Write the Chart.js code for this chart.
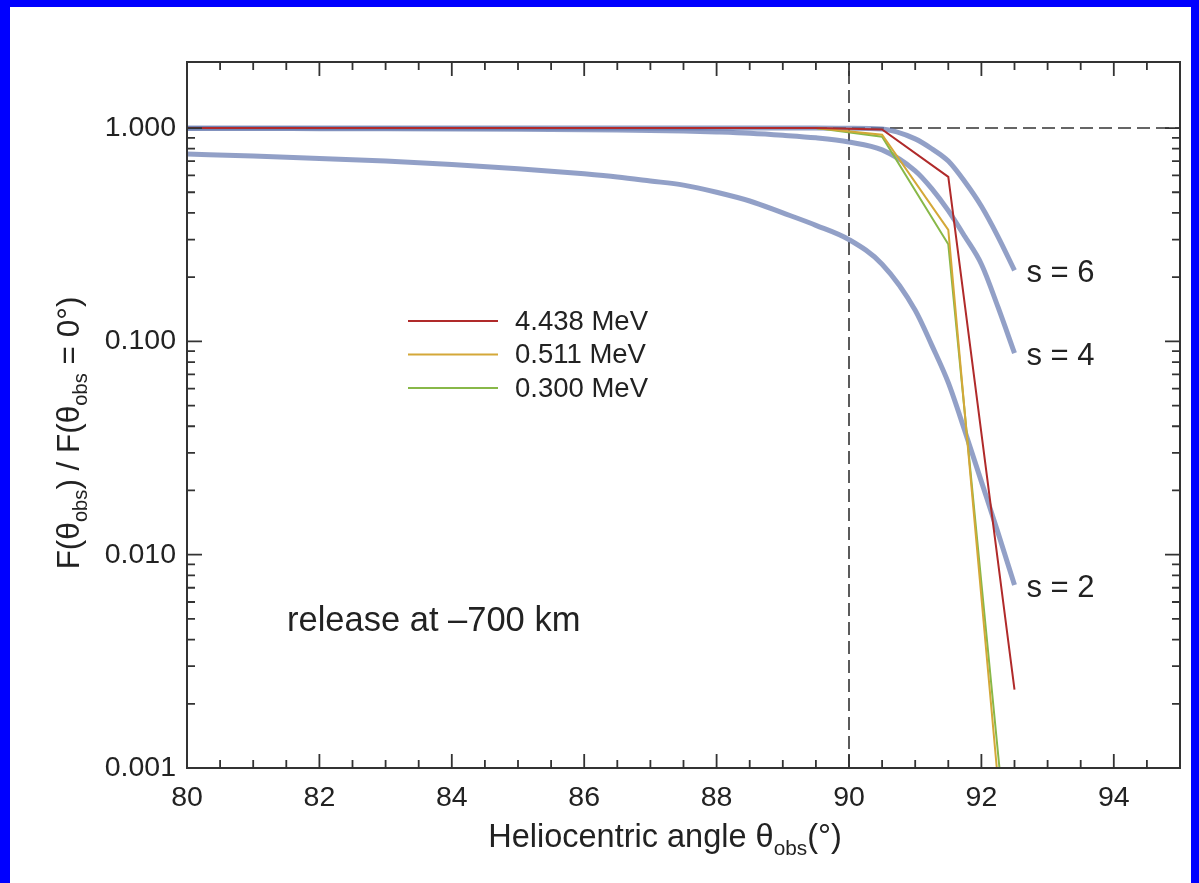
<!DOCTYPE html>
<html>
<head>
<meta charset="utf-8">
<script src="https://cdn.jsdelivr.net/npm/chart.js@4.4.0/dist/chart.umd.min.js"></script>
<style>
  html, body { margin: 0; padding: 0; background: #fff; }
  #wrap { position: relative; width: 1199px; height: 883px; }
</style>
</head>
<body>
<div id="wrap"><canvas id="c" width="1199" height="883"></canvas></div>
<script>
// heliocentric angles (deg) for the smooth s-curves
var sAngles = [80, 81, 82, 83, 84, 85, 86, 86.5, 87, 87.5, 88, 88.5, 89, 89.5, 90, 90.5, 91, 91.25, 91.5, 91.75, 92, 92.25, 92.5];
var s2Values = [0.755, 0.74, 0.72, 0.70, 0.675, 0.645, 0.61, 0.59, 0.565, 0.54, 0.50, 0.455, 0.40, 0.35, 0.30, 0.23, 0.14, 0.096, 0.064, 0.038, 0.022, 0.0127, 0.0072];
var s4Values = [0.995, 0.995, 0.993, 0.992, 0.99, 0.987, 0.983, 0.98, 0.975, 0.968, 0.958, 0.945, 0.925, 0.90, 0.86, 0.79, 0.63, 0.52, 0.41, 0.31, 0.23, 0.145, 0.088];
var s6Values = [1, 1, 1, 1, 1, 1, 1, 1, 1, 1, 1, 1, 1, 1, 0.998, 0.99, 0.89, 0.80, 0.70, 0.56, 0.43, 0.31, 0.215];
var sLabels = ["s = 2", "s = 4", "s = 6"];

// line energies
var lineAngles = [80, 89.5, 90.5, 91.5, 92.5];
var line4438 = [1, 1, 0.985, 0.59, 0.00233];
var line511 = [1, 1, 0.93, 0.333, 0.00012];
var line300 = [1, 1, 0.91, 0.285, 0.00019];
var lineLabels = ["4.438 MeV", "0.511 MeV", "0.300 MeV"];

// axes
var xTicks = [80, 82, 84, 86, 88, 90, 92, 94];
var yTicks = [0.001, 0.01, 0.1, 1];
var xRange = [80, 95];
var yRange = [0.001, 2.04];
var refAngle = 90, refRatio = 1;

var FONT = "'Liberation Sans', Arial, Helvetica, sans-serif";
var INK = "#222";
var sColor = "rgba(100,120,175,0.7)";
var lineColors = ["#b02a2a", "#d4a838", "#88b848"];

function pts(xs, ys) {
  return xs.map(function(x, i) { return {x: x, y: ys[i]}; });
}

function richText(ctx, parts, size, x, y, align) {
  var sub = size * 0.64;
  var w = 0;
  parts.forEach(function(p) {
    ctx.font = (p.sub ? sub : size) + "px " + FONT;
    p.w = ctx.measureText(p.t).width;
    w += p.w;
  });
  var cx = align === "center" ? x - w / 2 : x;
  ctx.textAlign = "left";
  ctx.textBaseline = "alphabetic";
  parts.forEach(function(p) {
    ctx.font = (p.sub ? sub : size) + "px " + FONT;
    ctx.fillText(p.t, cx, p.sub ? y + size * 0.25 : y);
    cx += p.w;
  });
}

var decor = {
  id: "decor",
  beforeDraw: function(chart) {
    var ctx = chart.ctx;
    ctx.save();
    ctx.fillStyle = "#fff";
    ctx.fillRect(0, 0, chart.width, chart.height);
    ctx.fillStyle = "#0000ff";
    ctx.fillRect(0, 0, chart.width, 7);
    ctx.fillRect(0, 0, 10, chart.height);
    ctx.fillRect(chart.width - 8, 0, 8, chart.height);
    ctx.restore();
  },
  afterDraw: function(chart) {
    var ctx = chart.ctx, a = chart.chartArea;
    var sx = chart.scales.x, sy = chart.scales.y;
    ctx.save();
    ctx.strokeStyle = "#333";
    ctx.lineWidth = 2;
    ctx.strokeRect(a.left, a.top, a.right - a.left, a.bottom - a.top);

    // inward ticks on all four sides
    ctx.lineWidth = 1.8;
    ctx.beginPath();
    for (var v = xRange[0]; v < xRange[1]; v += 0.5) {
      var px = sx.getPixelForValue(v);
      var len = (v % 2 === 0) ? 14 : 8;
      ctx.moveTo(px, a.bottom); ctx.lineTo(px, a.bottom - len);
      ctx.moveTo(px, a.top); ctx.lineTo(px, a.top + len);
    }
    yTicks.forEach(function(d) {
      for (var k = 1; k <= 9; k++) {
        var val = k * d;
        if (val > 1.0001) break;
        var py = sy.getPixelForValue(val);
        var l = k === 1 ? 15 : 8;
        ctx.moveTo(a.left, py); ctx.lineTo(a.left + l, py);
        ctx.moveTo(a.right, py); ctx.lineTo(a.right - l, py);
      }
    });
    ctx.stroke();

    ctx.fillStyle = INK;
    // axis titles
    richText(ctx, [{t: "Heliocentric angle θ"}, {t: "obs", sub: true}, {t: "(°)"}], 32.5, 665, 847, "center");
    ctx.save();
    ctx.translate(79, 433);
    ctx.rotate(-Math.PI / 2);
    richText(ctx, [{t: "F(θ"}, {t: "obs", sub: true}, {t: ") / F(θ"}, {t: "obs", sub: true}, {t: " = 0°)"}], 31.5, 0, 0, "center");
    ctx.restore();

    // s labels at curve ends
    ctx.font = "31px " + FONT;
    ctx.textAlign = "left";
    ctx.textBaseline = "middle";
    [s2Values, s4Values, s6Values].forEach(function(vals, i) {
      var n = sAngles.length - 1;
      ctx.fillText(sLabels[i], sx.getPixelForValue(sAngles[n]) + 12, sy.getPixelForValue(vals[n]) + 3);
    });

    // release note
    ctx.font = "34.5px " + FONT;
    ctx.textBaseline = "alphabetic";
    ctx.fillText("release at \u2013700 km", sx.getPixelForValue(81.51), sy.getPixelForValue(0.0044));

    // legend
    ctx.font = "27.5px " + FONT;
    ctx.textBaseline = "middle";
    lineLabels.forEach(function(lab, i) {
      var ly = 321 + i * 33.5;
      ctx.strokeStyle = lineColors[i];
      ctx.lineWidth = 2;
      ctx.beginPath(); ctx.moveTo(408, ly); ctx.lineTo(498, ly); ctx.stroke();
      ctx.fillText(lab, 515, ly + 1);
    });
    ctx.restore();
  }
};

var sets = [];
[s2Values, s4Values, s6Values].forEach(function(vals, i) {
  sets.push({label: sLabels[i], data: pts(sAngles, vals), borderColor: sColor, borderWidth: 5,
    cubicInterpolationMode: "monotone", order: 1, borderCapStyle: "butt"});
});
[line4438, line511, line300].forEach(function(vals, i) {
  sets.push({label: lineLabels[i], data: pts(lineAngles, vals), borderColor: lineColors[i], borderWidth: 2,
    tension: 0, order: 0});
});
sets.push({label: "ref x", data: [{x: refAngle, y: yRange[0]}, {x: refAngle, y: yRange[1]}],
  borderColor: "#333", borderWidth: 1.6, borderDash: [13, 6], order: 2});
sets.push({label: "ref y", data: [{x: xRange[0], y: refRatio}, {x: xRange[1], y: refRatio}],
  borderColor: "#333", borderWidth: 1.6, borderDash: [13, 6], order: 2});

new Chart(document.getElementById("c"), {
  type: "line",
  data: {datasets: sets},
  plugins: [decor],
  options: {
    responsive: false,
    animation: false,
    layout: {padding: {top: 62, right: 19, left: 0, bottom: 0}},
    elements: {point: {radius: 0}, line: {fill: false}},
    plugins: {legend: {display: false}, tooltip: {enabled: false}},
    scales: {
      x: {
        type: "linear", min: xRange[0], max: xRange[1],
        afterFit: function(s) { s.height = 115; },
        afterBuildTicks: function(s) { s.ticks = xTicks.map(function(v) { return {value: v}; }); },
        grid: {display: false}, border: {display: false},
        ticks: {font: {family: FONT, size: 28.5}, color: INK, padding: 5, maxRotation: 0, autoSkip: false}
      },
      y: {
        type: "logarithmic", min: yRange[0], max: yRange[1],
        afterFit: function(s) { s.width = 187; },
        afterBuildTicks: function(s) { s.ticks = yTicks.map(function(v) { return {value: v}; }); },
        grid: {display: false}, border: {display: false},
        ticks: {font: {family: FONT, size: 28.5}, color: INK, padding: 3, autoSkip: false,
          callback: function(v) { return Number(v).toFixed(3); }}
      }
    }
  }
});
</script>
</body>
</html>
